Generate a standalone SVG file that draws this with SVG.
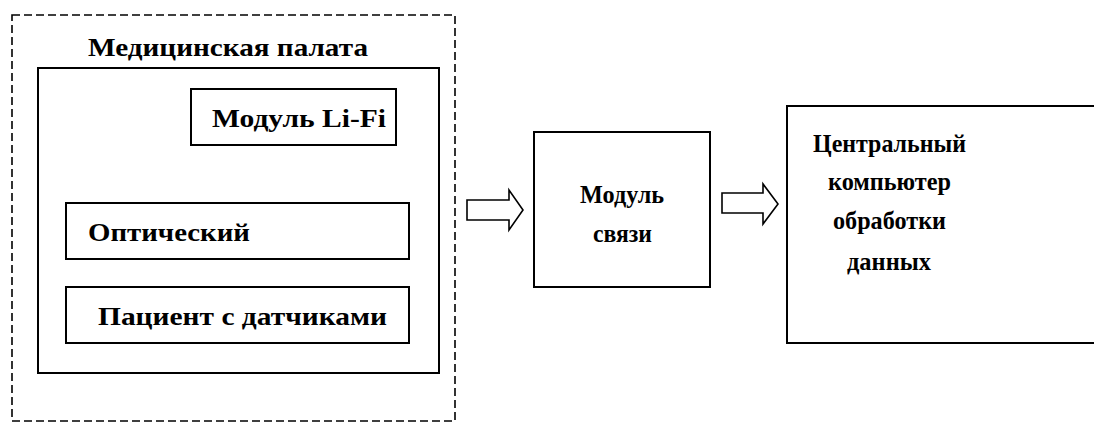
<svg xmlns="http://www.w3.org/2000/svg" width="1094" height="424" viewBox="0 0 1094 424">
<style>
.box{fill:#fff;stroke:#000;stroke-width:2}
.dash{fill:none;stroke:#000;stroke-width:1.6;stroke-dasharray:8 4}
.t{font-family:"Liberation Serif","Times New Roman",serif;font-weight:bold;font-size:26px;fill:#000}
.arr{fill:#fff;stroke:#000;stroke-width:1.6;stroke-linejoin:miter}
</style>
<rect width="1094" height="424" fill="#fff"/>
<g id="ward">
<rect class="dash" x="12" y="15" width="443" height="406"/>
<text class="t" x="88" y="56" textLength="280" lengthAdjust="spacingAndGlyphs">Медицинская палата</text>
<rect class="box" x="38" y="68" width="401" height="305"/>
</g>
<g id="lifi">
<rect class="box" x="191" y="89" width="205" height="56"/>
<text class="t" x="212" y="127" textLength="174" lengthAdjust="spacingAndGlyphs">Модуль Li-Fi</text>
</g>
<g id="optical">
<rect class="box" x="66" y="203" width="343" height="56"/>
<text class="t" x="88" y="241" textLength="162" lengthAdjust="spacingAndGlyphs">Оптический</text>
</g>
<g id="patient">
<rect class="box" x="66" y="287" width="343" height="56"/>
<text class="t" x="98" y="325" textLength="289" lengthAdjust="spacingAndGlyphs">Пациент с датчиками</text>
</g>
<g id="comm">
<rect class="box" x="534" y="132" width="176" height="155"/>
<text class="t" x="580" y="203" textLength="84" lengthAdjust="spacingAndGlyphs">Модуль</text>
<text class="t" x="593" y="242" textLength="59" lengthAdjust="spacingAndGlyphs">связи</text>
</g>
<g id="central">
<rect class="box" x="787" y="106" width="320" height="237"/>
<text class="t" x="813" y="152" textLength="153" lengthAdjust="spacingAndGlyphs">Центральный</text>
<text class="t" x="828" y="190" textLength="123" lengthAdjust="spacingAndGlyphs">компьютер</text>
<text class="t" x="833" y="229" textLength="113" lengthAdjust="spacingAndGlyphs">обработки</text>
<text class="t" x="847" y="270" textLength="84" lengthAdjust="spacingAndGlyphs">данных</text>
</g>
<g id="connectors">
<polygon class="arr" points="467,200 509,200 509,190 523,210 509,230 509,220 467,220"/>
<polygon class="arr" points="722,193 763,193 763,184 778,204 763,224 763,213 722,213"/>
</g>
</svg>
